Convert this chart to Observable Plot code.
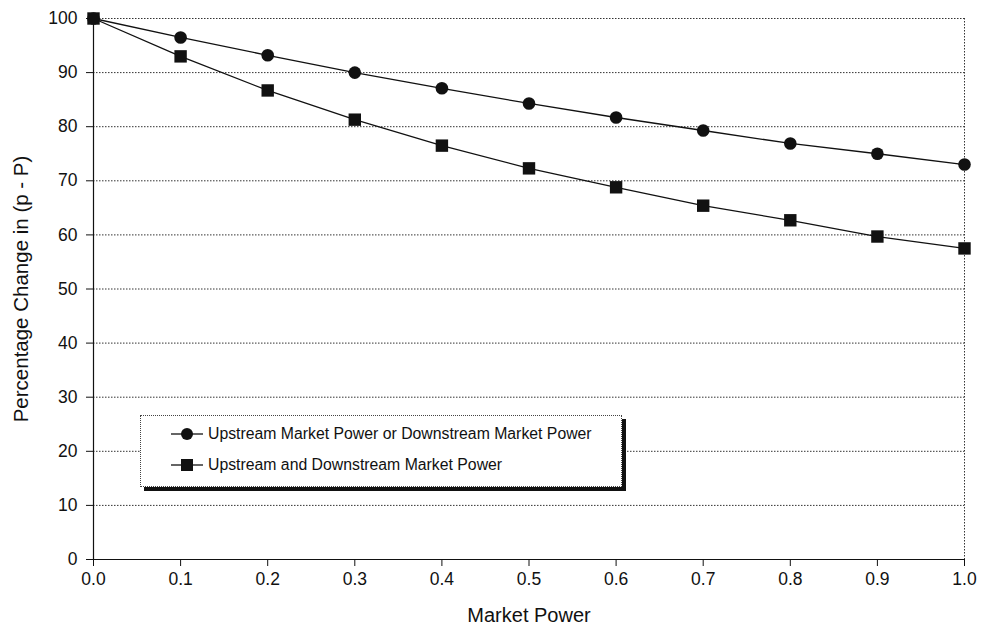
<!DOCTYPE html>
<html><head><meta charset="utf-8">
<script src="https://cdn.jsdelivr.net/npm/d3@7"></script>
<script src="https://cdn.jsdelivr.net/npm/@observablehq/plot@0.6"></script>
<style>
body{margin:0;background:#fff;font-family:"Liberation Sans",Arial,sans-serif;}
#wrap{position:relative;width:983px;height:631px;}
#legend{position:absolute;left:140px;top:415px;width:480px;height:70px;background:#fff;border:1px dotted #444;box-shadow:4px 4px 0 #111;font-size:15.8px;color:#111;}
#legend .row{position:absolute;left:28px;display:flex;align-items:center;}
#legend svg{margin-right:3px;}
</style></head><body>
<div id="wrap"></div>
<script>
const marketPower = [0.0,0.1,0.2,0.3,0.4,0.5,0.6,0.7,0.8,0.9,1.0];
const seriesOr  = [100,96.5,93.2,90.0,87.1,84.3,81.7,79.3,76.9,75.0,73.0];
const seriesAnd = [100,93.0,86.7,81.3,76.5,72.3,68.8,65.4,62.7,59.7,57.5];
const seriesNames = ["Upstream Market Power or Downstream Market Power","Upstream and Downstream Market Power"];
const yTicks = [0,10,20,30,40,50,60,70,80,90,100];
const xTicks = [0,0.1,0.2,0.3,0.4,0.5,0.6,0.7,0.8,0.9,1.0];

const dataOr = marketPower.map((x,i)=>({x, y: seriesOr[i]}));
const dataAnd = marketPower.map((x,i)=>({x, y: seriesAnd[i]}));

const chart = Plot.plot({
  width: 983, height: 631,
  marginLeft: 93, marginRight: 19, marginTop: 18, marginBottom: 72,
  style: {fontFamily: '"Liberation Sans", Arial, sans-serif', fontSize: "17px", color: "#111", background: "#fff"},
  x: {domain: [0,1]},
  y: {domain: [0,100]},
  marks: [
    Plot.ruleY(yTicks.filter(d=>d>0), {stroke: "#333", strokeDasharray: "1.5,1.5", strokeWidth: 1}),
    Plot.ruleX([1], {stroke: "#333", strokeDasharray: "1.5,1.5", strokeWidth: 1}),
    Plot.ruleX([0], {stroke: "#111", strokeWidth: 1.2}),
    Plot.ruleY([0], {stroke: "#111", strokeWidth: 1.2}),
    Plot.axisX({ticks: xTicks, tickFormat: d3.format(".1f"), label: null, tickSize: 7, tickPadding: 6, fontSize: 17.5}),
    Plot.axisX({ticks: [], label: "Market Power", labelAnchor: "center", labelOffset: 62, labelArrow: "none", fontSize: 20}),
    Plot.axisY({ticks: yTicks, label: null, tickSize: 7, tickPadding: 9, fontSize: 17.5}),
    Plot.axisY({ticks: [], label: "Percentage Change in (p - P)", labelAnchor: "center", labelOffset: 80, labelArrow: "none", fontSize: 20.5}),
    Plot.line(dataOr, {x: "x", y: "y", stroke: "#111", strokeWidth: 1.3}),
    Plot.line(dataAnd, {x: "x", y: "y", stroke: "#111", strokeWidth: 1.3}),
    Plot.dot(dataOr, {x: "x", y: "y", r: 6.3, fill: "#111", stroke: "none", symbol: "circle"}),
    Plot.dot(dataAnd, {x: "x", y: "y", r: 7, fill: "#111", stroke: "none", symbol: "square"})
  ]
});
const wrap = document.getElementById("wrap");
wrap.appendChild(chart);

const legend = document.createElement("div");
legend.id = "legend";
legend.innerHTML = `
<div class="row" style="top:9px"><svg width="36" height="14"><line x1="2" y1="7" x2="34" y2="7" stroke="#111" stroke-width="1.3"/><circle cx="18" cy="7" r="6" fill="#111"/></svg><span>${seriesNames[0]}</span></div>
<div class="row" style="top:40px"><svg width="36" height="14"><line x1="2" y1="7" x2="34" y2="7" stroke="#111" stroke-width="1.3"/><rect x="12" y="1" width="12" height="12" fill="#111"/></svg><span>${seriesNames[1]}</span></div>`;
wrap.appendChild(legend);
</script>
</body></html>
